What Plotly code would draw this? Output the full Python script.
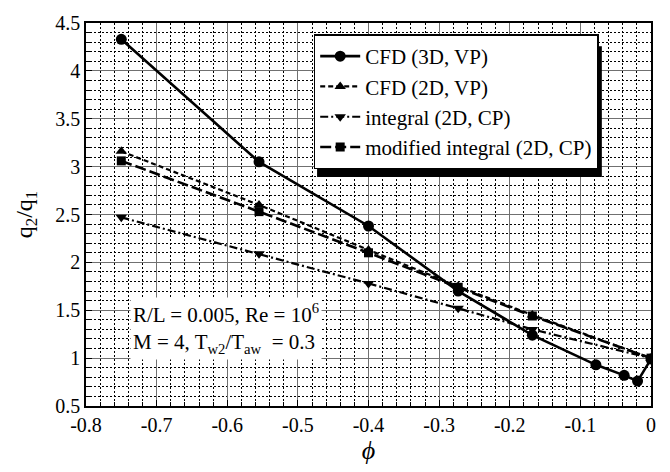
import plotly.graph_objects as go

# ---- data ----
phi_3d = [-0.75, -0.555, -0.40, -0.273, -0.168, -0.078, -0.038, -0.019, 0.0]
q_cfd3d = [4.33, 3.05, 2.38, 1.70, 1.24, 0.93, 0.82, 0.76, 0.99]

phi_2d = [-0.75, -0.555, -0.40, -0.273, -0.168, 0.0]
q_cfd2d = [3.16, 2.60, 2.13, 1.75, 1.45, 1.0]
q_integral = [2.47, 2.09, 1.78, 1.52, 1.30, 1.0]
q_modified = [3.06, 2.53, 2.10, 1.74, 1.44, 1.0]

x_tickvals = [-0.8, -0.7, -0.6, -0.5, -0.4, -0.3, -0.2, -0.1, 0]
x_ticktext = ["-0.8", "-0.7", "-0.6", "-0.5", "-0.4", "-0.3", "-0.2", "-0.1", "0"]
y_tickvals = [0.5, 1, 1.5, 2, 2.5, 3, 3.5, 4, 4.5]
y_ticktext = ["0.5", "1", "1.5", "2", "2.5", "3", "3.5", "4", "4.5"]

FONT = "Times New Roman, Liberation Serif, serif"

fig = go.Figure()
fig.add_trace(go.Scatter(x=phi_3d, y=q_cfd3d, name="CFD (3D, VP)", mode="lines+markers",
                         line=dict(color="black", width=2.6),
                         marker=dict(symbol="circle", size=11, color="black")))
fig.add_trace(go.Scatter(x=phi_2d, y=q_cfd2d, name="CFD (2D, VP)", mode="lines+markers",
                         line=dict(color="black", width=2.2, dash="5px,3px"),
                         marker=dict(symbol="triangle-up", size=10, color="black")))
fig.add_trace(go.Scatter(x=phi_2d, y=q_integral, name="integral (2D, CP)", mode="lines+markers",
                         line=dict(color="black", width=2.2, dash="8px,3px,2px,3px"),
                         marker=dict(symbol="triangle-down", size=10, color="black")))
fig.add_trace(go.Scatter(x=phi_2d, y=q_modified, name="modified integral (2D, CP)", mode="lines+markers",
                         line=dict(color="black", width=2.6, dash="11px,4px"),
                         marker=dict(symbol="square", size=9, color="black")))

# legend drop shadow (paper coords of the plot area)
fig.add_shape(type="rect", xref="paper", yref="paper", layer="above",
              x0=0.409, x1=0.913, y0=0.598, y1=0.939,
              fillcolor="black", line=dict(width=0))

fig.update_layout(
    width=670, height=472,
    margin=dict(l=86, r=19, t=13, b=66),
    paper_bgcolor="white", plot_bgcolor="white",
    font=dict(family=FONT, size=20, color="black"),
    showlegend=True,
    legend=dict(x=0.403, y=0.97, xanchor="left", yanchor="top",
                bgcolor="white", bordercolor="black", borderwidth=1.5,
                font=dict(family=FONT, size=21), tracegroupgap=0, itemwidth=40),
    annotations=[dict(
        xref="paper", yref="paper", x=0.078, y=0.285, xanchor="left", yanchor="top",
        text="R/L = 0.005, Re = 10<sup>6</sup><br>M = 4, T<sub>w2</sub>/T<sub>aw</sub>  = 0.3",
        showarrow=False, align="left", bgcolor="white", borderpad=2,
        font=dict(family=FONT, size=21, color="black"))],
)

fig.update_xaxes(
    range=[-0.8, 0], tickvals=x_tickvals, ticktext=x_ticktext,
    showline=True, linecolor="black", linewidth=1.5, mirror=True,
    showgrid=True, gridcolor="#707070", gridwidth=1.2,
    ticks="inside", ticklen=6, tickcolor="black",
    minor=dict(dtick=0.02, showgrid=True, gridcolor="black", griddash="2px,2px", gridwidth=1,
               ticks="inside", ticklen=4, tickcolor="black"),
    zeroline=False, tickfont=dict(family=FONT, size=20),
    title=dict(text="<i>ϕ</i>", font=dict(family=FONT, size=26), standoff=6),
)
fig.update_yaxes(
    range=[0.5, 4.5], tickvals=y_tickvals, ticktext=y_ticktext,
    showline=True, linecolor="black", linewidth=1.5, mirror=True,
    showgrid=True, gridcolor="#707070", gridwidth=1.2,
    ticks="inside", ticklen=6, tickcolor="black",
    minor=dict(dtick=0.1, showgrid=True, gridcolor="black", griddash="2px,2px", gridwidth=1,
               ticks="inside", ticklen=4, tickcolor="black"),
    zeroline=False, tickfont=dict(family=FONT, size=20),
    title=dict(text="q<sub>2</sub>/q<sub>1</sub>", font=dict(family=FONT, size=24), standoff=16),
)

fig.write_html("out.html")
